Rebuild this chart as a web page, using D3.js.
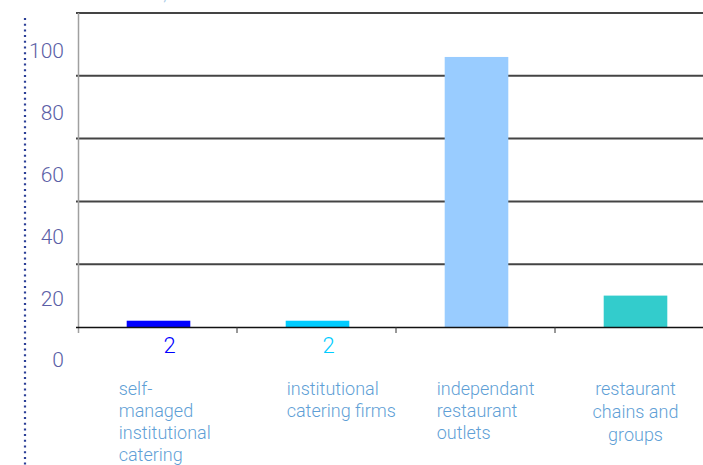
<!DOCTYPE html>
<html><head><meta charset="utf-8">
<script src="https://cdn.jsdelivr.net/npm/d3@7"></script>
<style>
html,body{margin:0;padding:0;background:#fff;overflow:hidden}
svg{display:block}
text{font-family:Roboto,"Noto Sans",sans-serif;font-weight:300}
</style></head>
<body>
<svg id="chart" width="703" height="465"></svg>
<script>
const categories = [
  ["self-", "managed", "institutional", "catering"],
  ["institutional", "catering firms"],
  ["independant", "restaurant", "outlets"],
  ["restaurant", "chains and", "groups"]
];
const values = [2, 2, 86, 10];
const valueLabels = ["2", "2", "", ""];
const barColors = ["#0000ff", "#00ccff", "#99ccff", "#33cccc"];
const yTicks = [0, 20, 40, 60, 80, 100];

const svg = d3.select("#chart");
const keys = d3.range(categories.length);
const x = d3.scaleBand().domain(keys).range([78, 714]).paddingInner(0.6).paddingOuter(0.3);
const y = d3.scaleLinear().domain([0, 100]).range([327, 13]);
const yLab = d3.scaleLinear().domain([0, 100]).range([360, 51]);

// cut-off title at top
svg.append("text").attr("x", 18).attr("y", -0.5).attr("fill", "#a9cbe8")
  .attr("font-size", 20).text("outlets in France, in %");

// dotted vertical line
svg.append("line").attr("x1", 25).attr("x2", 25).attr("y1", 18).attr("y2", 465)
  .attr("stroke", "#2b3f96").attr("stroke-width", 2.2).attr("stroke-dasharray", "2,3.7");

// gridlines
svg.append("g").selectAll("line").data(yTicks.filter(d => d > 0)).join("line")
  .attr("x1", 76).attr("x2", 703).attr("y1", d => y(d)).attr("y2", d => y(d))
  .attr("stroke", "#444").attr("stroke-width", 2);

// left axis line
svg.append("line").attr("x1", 78.5).attr("x2", 78.5).attr("y1", 13).attr("y2", 333)
  .attr("stroke", "#a0a0a0").attr("stroke-width", 1.5);

// y labels
svg.append("g").selectAll("text").data(yTicks).join("text")
  .attr("x", 64).attr("y", d => yLab(d)).attr("dy", "0.35em").attr("text-anchor", "end")
  .attr("fill", "#5b5ea6").attr("font-size", 21).text(d => d);

// bars
svg.append("g").selectAll("rect").data(values).join("rect")
  .attr("x", (d, i) => x(i) + 1).attr("width", x.bandwidth())
  .attr("y", d => y(d)).attr("height", d => y(0) - y(d))
  .attr("fill", (d, i) => barColors[i]);

// baseline + ticks
svg.append("line").attr("x1", 76).attr("x2", 703).attr("y1", 327.5).attr("y2", 327.5)
  .attr("stroke", "#111").attr("stroke-width", 1.5);
const tickXs = keys.map(i => x(i) - x.step() * x.paddingInner() / 2).slice(1);
svg.append("g").selectAll("line").data(tickXs).join("line")
  .attr("x1", d => d).attr("x2", d => d).attr("y1", 327).attr("y2", 333)
  .attr("stroke", "#333").attr("stroke-width", 1);

// value labels
svg.append("g").selectAll("text").data(values).join("text")
  .attr("x", (d, i) => x(i) + x.bandwidth() / 2 + 12).attr("y", 345).attr("dy", "0.35em")
  .attr("text-anchor", "middle").attr("font-size", 22).attr("font-weight", 400)
  .attr("fill", (d, i) => barColors[i]).text((d, i) => valueLabels[i]);

// category labels
const anchors = ["start", "start", "start", "middle"];
const labelX = [i => x(i) - 7, i => x(i) + 2, i => x(i) - 7, i => x(i) + x.bandwidth() / 2 + 1];
const lineH = [22, 22, 22, 23];
keys.forEach(i => {
  const t = svg.append("text").attr("fill", "#5f9fd6").attr("font-size", 18)
    .attr("text-anchor", anchors[i]);
  categories[i].forEach((line, j) => {
    t.append("tspan").attr("x", labelX[i](i)).attr("y", 395 + j * lineH[i]).text(line);
  });
});
</script>
</body></html>
